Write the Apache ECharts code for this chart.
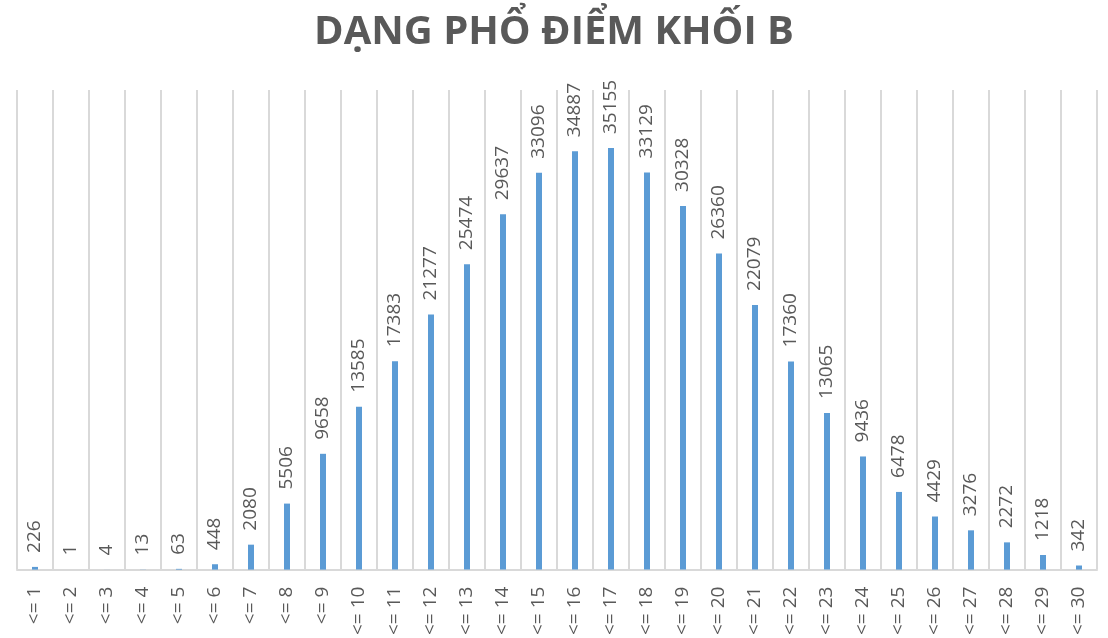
<!DOCTYPE html>
<html>

<head>
    <meta charset="utf-8" />
    <title>Dạng phổ điểm khối B</title>
    <script src="https://cdn.jsdelivr.net/npm/echarts@6.0.0/dist/echarts.min.js"></script>
    <style>
        html, body { margin: 0; padding: 0; background: #fff; }
        #main { width: 1108px; height: 638px; }
    </style>
</head>

<body>
    <div id="main"></div>
    <script type="text/javascript">
        var titleText = 'DẠNG PHỔ ĐIỂM KHỐI B';

        var scoreLabels = [];
        for (var i = 1; i <= 30; i++) {
            scoreLabels.push('<= ' + i);
        }

        var counts = [226, 1, 4, 13, 63, 448, 2080, 5506, 9658, 13585,
            17383, 21277, 25474, 29637, 33096, 34887, 35155, 33129, 30328, 26360,
            22079, 17360, 13065, 9436, 6478, 4429, 3276, 2272, 1218, 342];

        var myChart = echarts.init(document.getElementById('main'));

        myChart.setOption({
            animation: false,
            title: {
                text: titleText,
                left: 'center',
                top: 8,
                textStyle: {
                    fontFamily: 'Open Sans',
                    fontSize: 40,
                    fontWeight: 'bold',
                    color: '#595959'
                }
            },
            grid: {
                left: 17,
                right: 11,
                top: 90,
                bottom: 63,
                containLabel: false
            },
            xAxis: {
                type: 'category',
                data: scoreLabels,
                boundaryGap: true,
                axisLine: { lineStyle: { color: '#d9d9d9', width: 2 } },
                axisTick: { show: false },
                splitLine: { show: true, interval: 0, lineStyle: { color: '#d9d9d9', width: 2 } },
                axisLabel: {
                    interval: 0,
                    rotate: 90,
                    margin: 17,
                    fontFamily: 'Open Sans',
                    fontSize: 19,
                    color: '#595959'
                }
            },
            yAxis: {
                type: 'value',
                min: 0,
                max: 40000,
                show: false,
                splitLine: { show: false }
            },
            series: [
                {
                    type: 'bar',
                    data: counts,
                    barWidth: 6,
                    itemStyle: { color: '#5b9bd5' },
                    label: {
                        show: true,
                        position: 'top',
                        rotate: 90,
                        align: 'left',
                        verticalAlign: 'middle',
                        distance: 14,
                        fontFamily: 'Open Sans',
                        fontSize: 19,
                        color: '#595959'
                    }
                }
            ]
        });
    </script>
</body>

</html>
